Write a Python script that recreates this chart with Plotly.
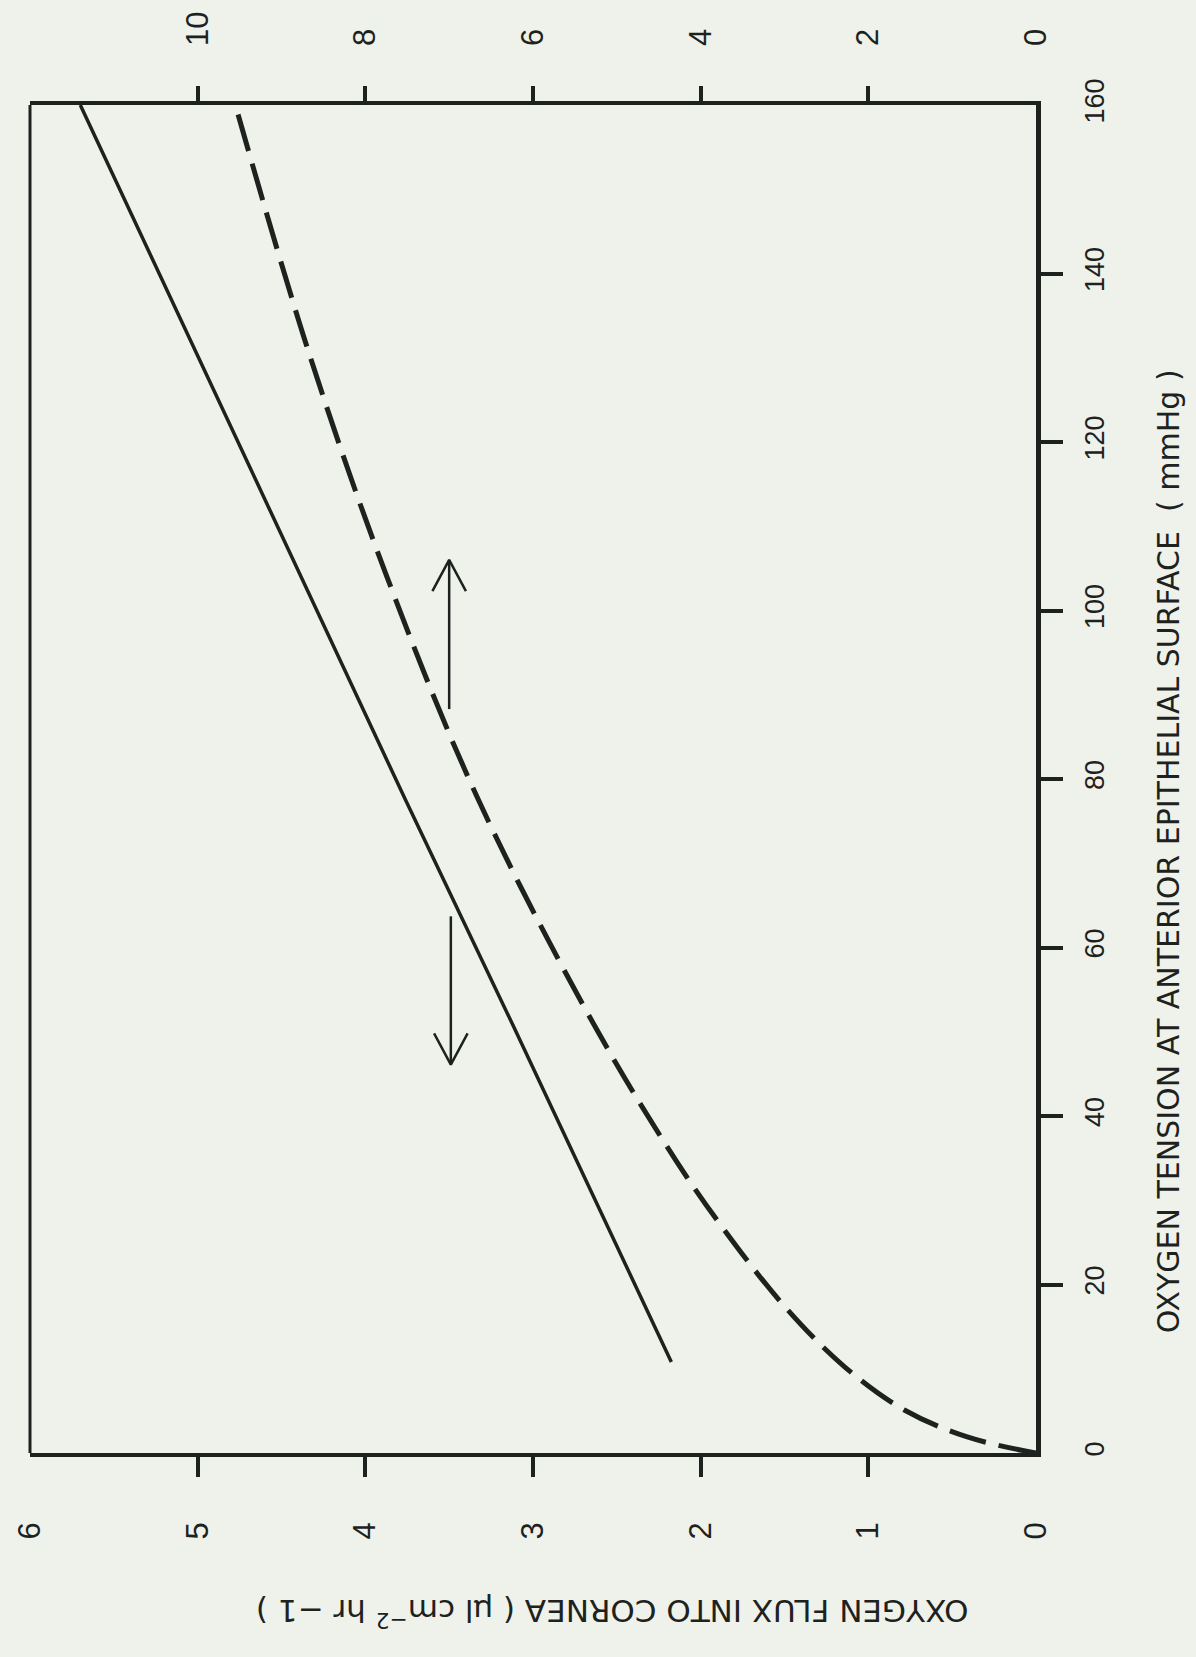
import plotly.graph_objects as go

# ---------------- data ----------------
# Oxygen flux into cornea (bottom axis, reversed) vs oxygen tension (right axis)
solid_tension = [10.8, 24.1, 50.8, 77.5, 130.8, 160.0]
solid_flux = [2.175, 2.49, 3.12, 3.76, 5.01, 5.70]

# Second curve, read on the top scale (0-12, reversed)
dashed_tension = [0.0, 1.9, 5.1, 10.2, 17.3, 26.5, 34.8, 50.8, 77.5, 104.2, 130.8, 160.0]
dashed_value = [0.0, 0.82, 1.57, 2.28, 2.99, 3.72, 4.30, 5.27, 6.65, 7.75, 8.68, 9.55]

# Arrows: position on flux axis, tail and tip on tension axis
arrow_up_x, arrow_up_tail, arrow_up_tip = 3.50, 88.3, 106.0
arrow_down_x, arrow_down_tail, arrow_down_tip = 3.49, 63.7, 46.1

flux_labels = [0, 1, 2, 3, 4, 5, 6]
flux_marks = [1, 2, 3, 4, 5]
tension_labels = [0, 20, 40, 60, 80, 100, 120, 140, 160]
tension_marks = [20, 40, 60, 80, 100, 120, 140]
top_labels = [0, 2, 4, 6, 8, 10]
top_marks = [2, 4, 6, 8, 10]

INK = "#1e221e"
BG = "#eef2ea"
FONT = "Liberation Sans"
TITLE_FONT = "DejaVu Sans"

W, H = 1196, 1657
ML, MR, MT, MB = 21, 160, 104, 204

fig = go.Figure()

fig.add_trace(go.Scatter(
    x=solid_flux, y=solid_tension, mode="lines",
    line=dict(color=INK, width=3.5), xaxis="x", yaxis="y",
    showlegend=False, hoverinfo="skip"))

fig.add_trace(go.Scatter(
    x=dashed_value, y=dashed_tension, mode="lines",
    line=dict(color=INK, width=5, dash="38px,13px", shape="spline", smoothing=1.0),
    xaxis="x2", yaxis="y", showlegend=False, hoverinfo="skip"))

# arrows (shaft + open V head)
head_dx, head_dy = 0.10, 3.7
for ax_x, tail, tip in [(arrow_up_x, arrow_up_tail, arrow_up_tip),
                        (arrow_down_x, arrow_down_tail, arrow_down_tip)]:
    sgn = 1 if tip > tail else -1
    fig.add_trace(go.Scatter(
        x=[ax_x, ax_x, None, ax_x - head_dx, ax_x, ax_x + head_dx],
        y=[tail, tip, None, tip - sgn * head_dy, tip, tip - sgn * head_dy],
        mode="lines", line=dict(color=INK, width=2.5),
        xaxis="x", yaxis="y", showlegend=False, hoverinfo="skip"))

# empty traces so that the label-only axes get drawn
for xa, ya in [("x3", "y"), ("x4", "y"), ("x", "y2")]:
    fig.add_trace(go.Scatter(x=[], y=[], xaxis=xa, yaxis=ya, mode="lines",
                             showlegend=False, hoverinfo="skip"))

tickfont_big = dict(family=FONT, size=31, color=INK)
tickfont_right = dict(family=FONT, size=27, color=INK)

fig.update_layout(
    width=W, height=H,
    margin=dict(l=ML, r=MR, t=MT, b=MB, pad=0),
    paper_bgcolor=BG, plot_bgcolor=BG,
    showlegend=False,
    xaxis=dict(range=[6, 0], tickmode="array", tickvals=flux_marks,
               showticklabels=False, ticks="outside", ticklen=20, tickwidth=4,
               tickcolor=INK, showline=True, linewidth=4, linecolor=INK,
               showgrid=False, zeroline=False, side="bottom", anchor="y"),
    xaxis3=dict(range=[6, 0], overlaying="x", side="bottom", anchor="y",
                tickmode="array", tickvals=flux_labels,
                ticktext=[str(v) for v in flux_labels],
                ticks="", tickangle=-90, tickfont=tickfont_big,
                ticklabelstandoff=62, showline=False, showgrid=False, zeroline=False),
    xaxis2=dict(range=[12, 0], overlaying="x", side="top", anchor="y",
                tickmode="array", tickvals=top_marks, showticklabels=False,
                ticks="outside", ticklen=15, tickwidth=3.5, tickcolor=INK,
                showline=True, linewidth=4, linecolor=INK,
                showgrid=False, zeroline=False),
    xaxis4=dict(range=[12, 0], overlaying="x", side="top", anchor="y",
                tickmode="array", tickvals=top_labels,
                ticktext=[str(v) for v in top_labels],
                ticks="", tickangle=-90, tickfont=tickfont_big,
                ticklabelstandoff=58, showline=False, showgrid=False, zeroline=False),
    yaxis=dict(range=[0, 160], side="right", anchor="x",
               tickmode="array", tickvals=tension_marks, showticklabels=False,
               ticks="outside", ticklen=22, tickwidth=3.5, tickcolor=INK,
               showline=True, linewidth=5, linecolor=INK,
               showgrid=False, zeroline=False),
    yaxis2=dict(range=[0, 160], overlaying="y", side="right", anchor="x",
                tickmode="array", tickvals=tension_labels,
                ticktext=[str(v) for v in tension_labels],
                ticks="", tickangle=-90, tickfont=tickfont_right,
                ticklabelstandoff=40, showline=False, showgrid=False, zeroline=False),
    shapes=[dict(type="line", xref="paper", yref="paper", x0=0, x1=0, y0=0, y1=1,
                 line=dict(color=INK, width=3), layer="above")],
    annotations=[
        dict(text="OXYGEN TENSION AT ANTERIOR EPITHELIAL SURFACE &nbsp;( mmHg )",
             xref="paper", yref="paper",
             x=(1170 - ML) / (W - ML - MR), y=(H - MB - 851) / (H - MT - MB),
             textangle=-90, showarrow=False, xanchor="center", yanchor="middle",
             font=dict(family=TITLE_FONT, size=30, color=INK)),
        dict(text="OXYGEN FLUX INTO CORNEA ( \u03bcl cm<sup>\u22122</sup> hr \u22121 )",
             xref="paper", yref="paper",
             x=(608 - ML) / (W - ML - MR), y=-(1613 - (H - MB)) / (H - MT - MB),
             textangle=180, showarrow=False, xanchor="center", yanchor="middle",
             font=dict(family=TITLE_FONT, size=31, color=INK)),
    ],
)

fig.write_html(
    "out.html",
    config={"displayModeBar": False},
    post_script="document.body.style.margin='0';document.body.style.background='%s';" % BG,
)
